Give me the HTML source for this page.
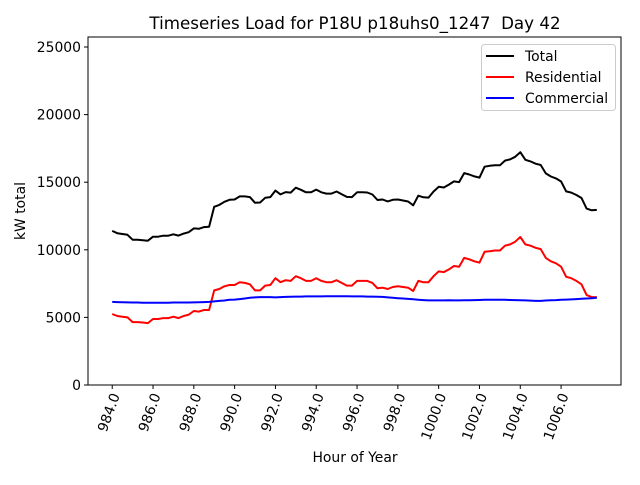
<!DOCTYPE html>
<html><head><meta charset="utf-8"><style>
body{margin:0;background:#fff;}
svg text{font-family:"DejaVu Sans","Liberation Sans",sans-serif;}
</style></head><body>
<svg id="chart" width="640" height="480" xmlns="http://www.w3.org/2000/svg">
<rect width="640" height="480" fill="#fff"/>
<text x="355" y="29" font-size="16.7" text-anchor="middle" style="white-space:pre">Timeseries Load for P18U p18uhs0_1247  Day 42</text>
<g id="plot"></g>
<text x="355" y="462" font-size="13.9" text-anchor="middle">Hour of Year</text>
<text transform="translate(25,211) rotate(-90)" font-size="13.9" text-anchor="middle">kW total</text>
</svg>
<script>
const startHour = 984;
const stepHours = 0.25;
const residential = [5250,5100,5050,5000,4650,4650,4620,4580,4880,4880,4950,4950,5050,4950,5100,5200,5470,5430,5550,5550,7000,7100,7300,7400,7400,7600,7550,7450,
7000,7000,7350,7400,7900,7600,7750,7700,8050,7900,7700,7700,7900,7700,7600,7600,7750,7550,7350,7350,7700,7700,7700,7550,7150,7200,7100,7250,7300,7250,7200,6950,7700,7600,7600,8050,8400,
8350,8550,8800,8750,9400,9300,9150,9050,9850,9900,9950,9950,10300,10400,10600,10950,10400,10300,10150,10050,9400,9150,9000,8750,8000,7900,7700,7450,6650,6500,6500,6450];
const commercial = [6150,6130,6120,6110,6100,6100,6090,6090,6090,6090,6090,6090,6100,6100,6100,6100,
6110,6120,6130,6150,6180,6220,6250,6300,6320,6350,6400,6450,6480,6500,6500,6500,
6480,6500,6520,6530,6540,6540,6550,6550,6550,6550,6560,6560,6560,6560,6560,6550,
6550,6550,6540,6540,6530,6520,6480,6450,6420,6400,6370,6340,6300,6280,6260,6260,
6260,6260,6270,6260,6260,6270,6270,6280,6290,6300,6310,6310,6300,6300,6290,6280,
6270,6260,6240,6220,6220,6250,6270,6280,6300,6320,6330,6350,6380,6400,6420,6450];
const xTicks = [984,986,988,990,992,994,996,998,1000,1002,1004,1006];
const yTicks = [0,5000,10000,15000,20000,25000];
const seriesNames = ["Total","Residential","Commercial"];

const L=88,R=621,T=37,B=385;
const n=Math.min(residential.length,commercial.length);
const total=[];for(let i=0;i<n;i++)total.push(residential[i]+commercial[i]);
const hours=[];for(let i=0;i<n;i++)hours.push(startHour+i*stepHours);
const x0=hours[0],x1=hours[n-1],m=(x1-x0)*0.05;
const sx=h=>L+(h-(x0-m))/((x1+m)-(x0-m))*(R-L);
const sy=v=>B-v/25740*(B-T);
const NS="http://www.w3.org/2000/svg";
const g=document.getElementById('plot');
function mk(t,a,p){const e=document.createElementNS(NS,t);for(const k in a)e.setAttribute(k,a[k]);(p||g).appendChild(e);return e;}
function line(vals,color,name){
  const d=vals.map((v,i)=>(i?'L':'M')+sx(hours[i]).toFixed(1)+','+sy(v).toFixed(1)).join('');
  const p=mk('path',{d:d,fill:'none',stroke:color,'stroke-width':2,'stroke-linejoin':'round'});
  
  
}
line(total,'#000','total-line');
line(residential,'#f00','residential-line');
line(commercial,'#00f','commercial-line');
const fr=mk('rect',{x:L,y:T,width:R-L,height:B-T,fill:'none',stroke:'#000','stroke-width':1});


xTicks.forEach(t=>{
  const x=sx(t);
  mk('line',{x1:x,x2:x,y1:B,y2:B+4,stroke:'#000'});
  const tx=mk('text',{transform:`translate(${x+4},${B+9}) rotate(-70)`,'font-size':13.9,'text-anchor':'end','dominant-baseline':'middle'});
  tx.textContent=t.toFixed(1);
  
  
});
yTicks.forEach(t=>{
  const y=sy(t);
  mk('line',{x1:L-4,x2:L,y1:y,y2:y,stroke:'#000'});
  const tx=mk('text',{x:L-7,y:y+5,'font-size':13.9,'text-anchor':'end'});
  tx.textContent=t;
  
  
});
const lg=mk('g',{});


mk('rect',{x:481.5,y:44.5,width:134,height:66,rx:3,fill:'#fff',stroke:'#ccc'},lg);
const cols=['#000','#f00','#00f'];
seriesNames.forEach((s,i)=>{
  const y=56+i*21;
  mk('line',{x1:486,x2:514,y1:y,y2:y,stroke:cols[i],'stroke-width':2},lg);
  const tx=mk('text',{x:525,y:y+5,'font-size':13.9},lg);
  tx.textContent=s;
  
  
});
</script>
</body></html>
